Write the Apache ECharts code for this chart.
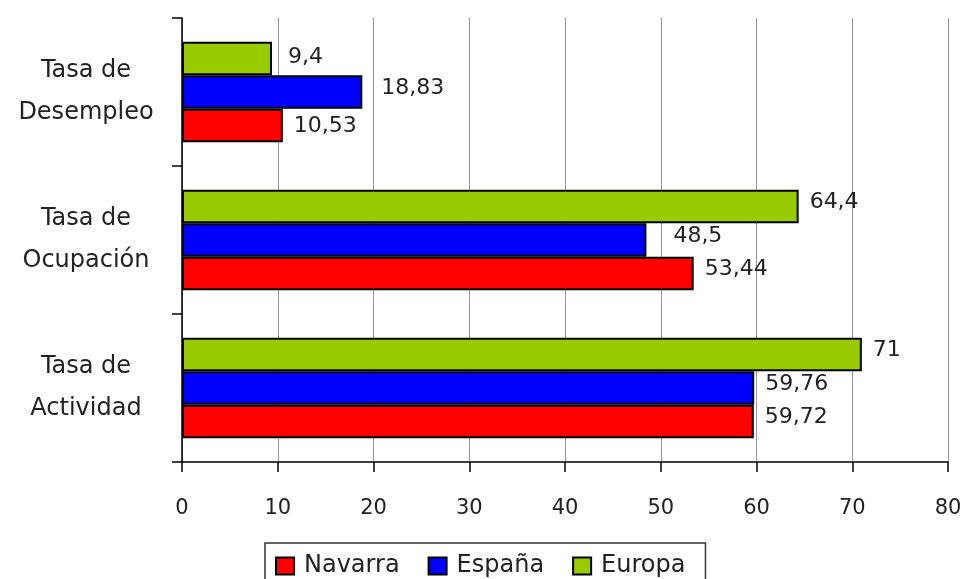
<!DOCTYPE html>
<html>
<head>
<meta charset="utf-8">
<script src="https://cdn.jsdelivr.net/npm/echarts@6/dist/echarts.min.js"></script>
<style>
html,body{margin:0;padding:0;background:#fff;}
#chart{width:965px;height:579px;}
</style>
</head>
<body>
<div id="chart"></div>
<script>
// Categories listed bottom to top (value axis origin is at the bottom)
var categories = ['Tasa de\nActividad', 'Tasa de\nOcupación', 'Tasa de\nDesempleo'];
var seriesNames = ['Navarra', 'España', 'Europa'];
var navarra = [59.72, 53.44, 10.53];
var espana = [59.76, 48.5, 18.83];
var europa = [71, 64.4, 9.4];
var xTicks = [0, 10, 20, 30, 40, 50, 60, 70, 80];

var colors = ['#ff0000', '#0000ff', '#99cc00'];
var FONT = 'DejaVu Sans';

// Styling only: a few value labels are nudged in the original (by series index, category index)
var labelNudge = {
  '2-2': [5, 3],
  '1-2': [8, 0],
  '0-2': [0, 5],
  '1-1': [16, 0]
};

function fmt(v) { return String(v).replace('.', ','); }

function makeSeries(idx, name, values, color) {
  return {
    name: name,
    type: 'bar',
    data: values.map(function (v, ci) {
      var n = labelNudge[idx + '-' + ci];
      if (!n) return v;
      return { value: v, label: { offset: [n[0], -4 + n[1]] } };
    }),
    barCategoryGap: '32%',
    barGap: '0%',
    itemStyle: { color: color, borderColor: '#000', borderWidth: 2 },
    label: {
      show: true,
      position: 'right',
      distance: 11,
      offset: [0, -4],
      fontFamily: FONT,
      fontSize: 22,
      color: '#222',
      formatter: function (p) { return fmt(p.value); }
    },
    emphasis: { disabled: true },
    animation: false
  };
}

var chart = echarts.init(document.getElementById('chart'), null, { renderer: 'canvas' });
chart.setOption({
  backgroundColor: '#fff',
  animation: false,
  textStyle: { fontFamily: FONT },
  grid: { left: 182, right: 17, top: 18, bottom: 117, containLabel: false },
  xAxis: {
    type: 'value',
    min: xTicks[0],
    max: xTicks[xTicks.length - 1],
    interval: xTicks[1] - xTicks[0],
    axisLine: { show: true, lineStyle: { color: '#000', width: 1.5 } },
    axisTick: { show: true, length: 10, lineStyle: { color: '#000', width: 1.5 } },
    splitLine: { show: true, lineStyle: { color: '#999', width: 1 } },
    axisLabel: { margin: 36, fontFamily: FONT, fontSize: 21, color: '#222', lineHeight: 21,
      formatter: function (v) { return String(v); } }
  },
  yAxis: {
    type: 'category',
    data: categories,
    axisLine: { show: true, lineStyle: { color: '#000', width: 1.5 } },
    axisTick: { show: true, length: 10, alignWithLabel: false, lineStyle: { color: '#000', width: 1.5 } },
    splitLine: { show: false },
    axisLabel: { align: 'center', margin: 96, fontFamily: FONT, fontSize: 24, color: '#222',
      lineHeight: 42, padding: [0, 0, 16, 0] }
  },
  legend: {
    data: seriesNames,
    orient: 'horizontal',
    left: 265,
    top: 543,
    padding: [11, 20, 11, 10],
    borderColor: '#333',
    borderWidth: 1.5,
    itemWidth: 18,
    itemHeight: 17,
    itemGap: 28,
    icon: 'rect',
    textStyle: { fontFamily: FONT, fontSize: 24, color: '#222', padding: [0, 0, 0, 5] },
    selectedMode: false
  },
  // Series drawn top-to-bottom within each group: Europa, España, Navarra
  series: [
    makeSeries(2, seriesNames[2], europa, colors[2]),
    makeSeries(1, seriesNames[1], espana, colors[1]),
    makeSeries(0, seriesNames[0], navarra, colors[0])
  ]
});
</script>
</body>
</html>
